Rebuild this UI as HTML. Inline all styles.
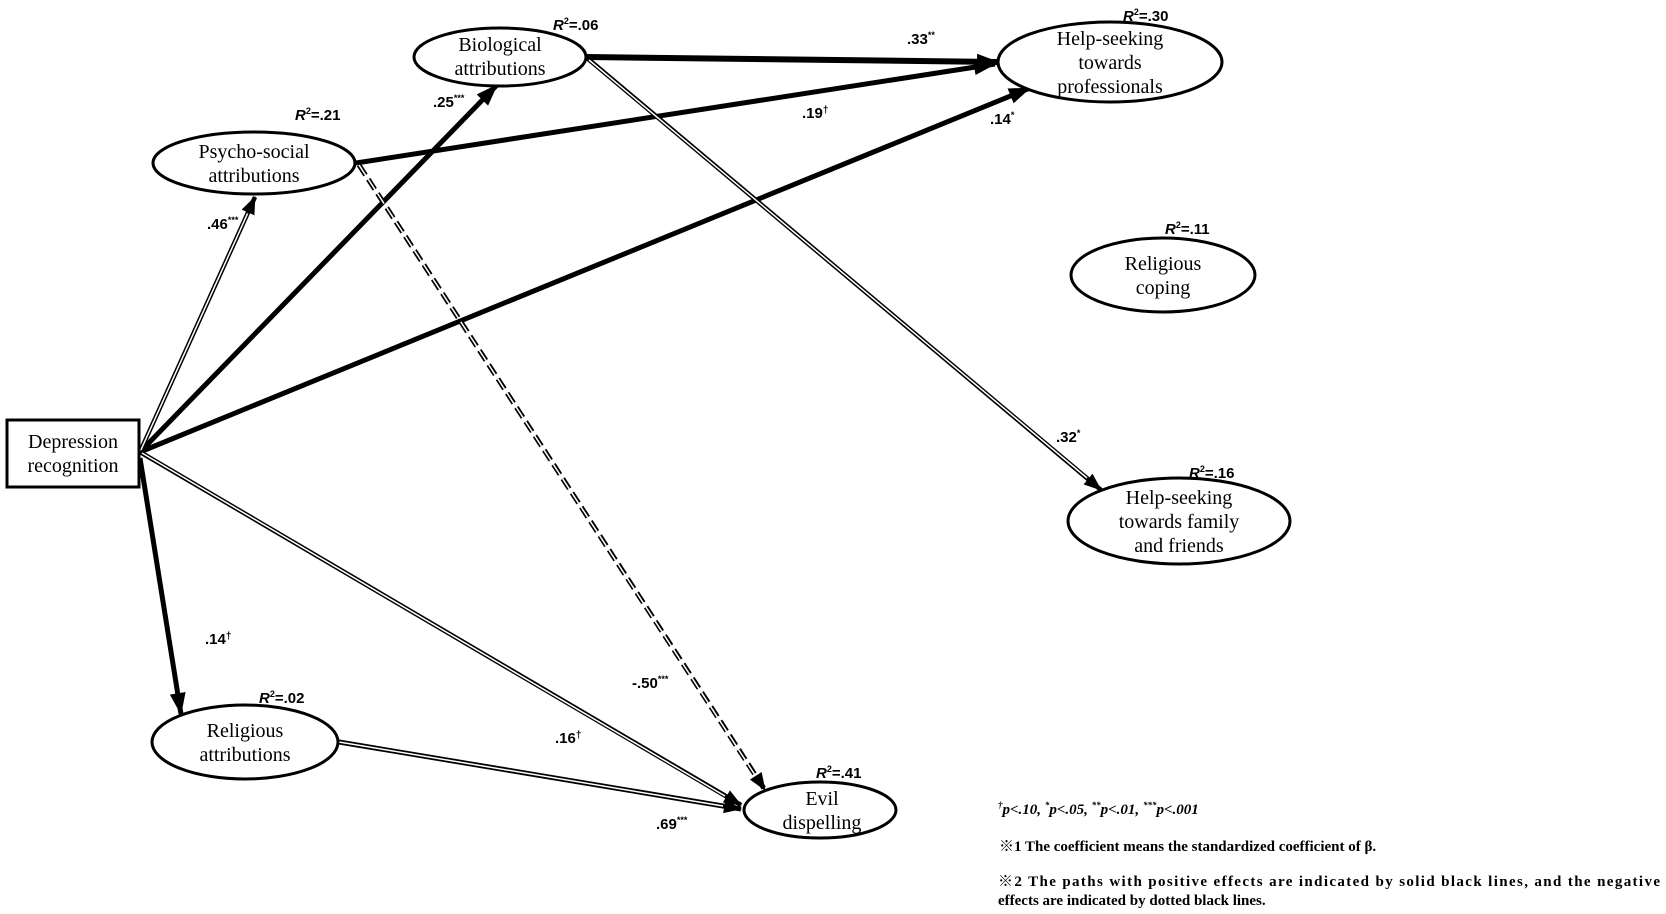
<!DOCTYPE html>
<html><head><meta charset="utf-8"><style>
html,body{margin:0;padding:0;background:#fff}
svg{display:block}
.n{font-family:"Liberation Serif",serif;font-size:20px;fill:#000}
.l{font-family:"Liberation Sans",sans-serif;font-weight:bold;font-size:15px;fill:#000}
.g{font-family:"Liberation Serif",serif;font-weight:bold;font-size:15px;fill:#000}
</style></head><body>
<svg width="1666" height="914" viewBox="0 0 1666 914" xmlns="http://www.w3.org/2000/svg">
<defs>
<marker id="a" markerUnits="userSpaceOnUse" markerWidth="22" markerHeight="16" refX="21" refY="8" orient="auto"><path d="M0,0 L22,8 L0,16 z" fill="#000"/></marker>
<marker id="b" markerUnits="userSpaceOnUse" markerWidth="18" markerHeight="14" refX="17" refY="7" orient="auto"><path d="M0,0 L18,7 L0,14 z" fill="#000"/></marker>
</defs>
<g fill="none" stroke="#000">
<!-- thick paths -->
<line x1="140" y1="452" x2="497" y2="85" stroke-width="5" marker-end="url(#a)"/>
<line x1="140" y1="452" x2="1030" y2="88" stroke-width="5" marker-end="url(#a)"/>
<line x1="587" y1="57" x2="998" y2="62" stroke-width="6" marker-end="url(#a)"/>
<line x1="356" y1="163" x2="995" y2="64" stroke-width="5" marker-end="url(#a)"/>
<line x1="140" y1="458" x2="181" y2="714" stroke-width="5" marker-end="url(#a)"/>
<!-- double paths -->
<line x1="140" y1="452" x2="255" y2="197" stroke-width="4.5" marker-end="url(#b)"/>
<line x1="140" y1="452" x2="247.6" y2="213.4" stroke-width="1.5" stroke="#fff"/>
<line x1="587" y1="58" x2="1101" y2="490" stroke-width="4.5" marker-end="url(#b)"/>
<line x1="589" y1="60" x2="1087" y2="478" stroke-width="1.5" stroke="#fff"/>
<line x1="140" y1="452" x2="741" y2="805" stroke-width="4.5" marker-end="url(#b)"/>
<line x1="142" y1="453" x2="725" y2="796" stroke-width="1.5" stroke="#fff"/>
<line x1="339" y1="742" x2="741" y2="809" stroke-width="5" marker-end="url(#b)"/>
<line x1="339" y1="742" x2="723" y2="806" stroke-width="1.5" stroke="#fff"/>
<line x1="359" y1="165" x2="765" y2="790" stroke-width="5" stroke-dasharray="12,5" marker-end="url(#b)"/>
<line x1="359" y1="165" x2="755" y2="775" stroke-width="1.5" stroke="#fff" stroke-dasharray="12,5"/>
</g>
<g fill="#fff" stroke="#000" stroke-width="3">
<rect x="7" y="420" width="132" height="67"/>
<ellipse cx="500" cy="57" rx="86" ry="29"/>
<ellipse cx="254" cy="163" rx="101" ry="31"/>
<ellipse cx="1110" cy="62" rx="112" ry="40"/>
<ellipse cx="1163" cy="275" rx="92" ry="37"/>
<ellipse cx="1179" cy="521" rx="111" ry="43"/>
<ellipse cx="245" cy="742" rx="93" ry="37"/>
<ellipse cx="820" cy="810" rx="76" ry="28"/>
</g>
<g class="n" text-anchor="middle">
<text x="73" y="448">Depression</text><text x="73" y="472">recognition</text>
<text x="500" y="51">Biological</text><text x="500" y="75">attributions</text>
<text x="254" y="158">Psycho-social</text><text x="254" y="182">attributions</text>
<text x="1110" y="45">Help-seeking</text><text x="1110" y="69">towards</text><text x="1110" y="93">professionals</text>
<text x="1163" y="270">Religious</text><text x="1163" y="294">coping</text>
<text x="1179" y="504">Help-seeking</text><text x="1179" y="528">towards family</text><text x="1179" y="552">and friends</text>
<text x="245" y="737">Religious</text><text x="245" y="761">attributions</text>
<text x="822" y="805">Evil</text><text x="822" y="829">dispelling</text>
</g>
<g class="l">
<text x="553" y="30"><tspan font-style="italic">R</tspan><tspan font-size="9" dy="-6">2</tspan><tspan dy="6">=.06</tspan></text>
<text x="295" y="120"><tspan font-style="italic">R</tspan><tspan font-size="9" dy="-6">2</tspan><tspan dy="6">=.21</tspan></text>
<text x="1123" y="21"><tspan font-style="italic">R</tspan><tspan font-size="9" dy="-6">2</tspan><tspan dy="6">=.30</tspan></text>
<text x="1165" y="234"><tspan font-style="italic">R</tspan><tspan font-size="9" dy="-6">2</tspan><tspan dy="6">=.11</tspan></text>
<text x="1189" y="478"><tspan font-style="italic">R</tspan><tspan font-size="9" dy="-6">2</tspan><tspan dy="6">=.16</tspan></text>
<text x="259" y="703"><tspan font-style="italic">R</tspan><tspan font-size="9" dy="-6">2</tspan><tspan dy="6">=.02</tspan></text>
<text x="816" y="778"><tspan font-style="italic">R</tspan><tspan font-size="9" dy="-6">2</tspan><tspan dy="6">=.41</tspan></text>
<text x="433" y="107">.25<tspan font-size="9" dy="-6">***</tspan></text>
<text x="207" y="229">.46<tspan font-size="9" dy="-6">***</tspan></text>
<text x="907" y="44">.33<tspan font-size="9" dy="-6">**</tspan></text>
<text x="802" y="118">.19<tspan font-size="10" dy="-5">†</tspan></text>
<text x="990" y="124">.14<tspan font-size="9" dy="-6">*</tspan></text>
<text x="1056" y="442">.32<tspan font-size="9" dy="-6">*</tspan></text>
<text x="205" y="644">.14<tspan font-size="10" dy="-5">†</tspan></text>
<text x="632" y="688">-.50<tspan font-size="9" dy="-6">***</tspan></text>
<text x="555" y="743">.16<tspan font-size="10" dy="-5">†</tspan></text>
<text x="656" y="829">.69<tspan font-size="9" dy="-6">***</tspan></text>
</g>
<g class="g">
<text x="998" y="814" font-style="italic"><tspan font-size="9" dy="-6">†</tspan><tspan dy="6">p&lt;.10, </tspan><tspan font-size="9" dy="-6">*</tspan><tspan dy="6">p&lt;.05, </tspan><tspan font-size="9" dy="-6">**</tspan><tspan dy="6">p&lt;.01, </tspan><tspan font-size="9" dy="-6">***</tspan><tspan dy="6">p&lt;.001</tspan></text>
<text x="999" y="851" font-family="'Liberation Serif','Noto Serif CJK SC',serif">※1 The coefficient means the standardized coefficient of β.</text>
<text x="998" y="886" textLength="662" lengthAdjust="spacing" font-family="'Liberation Serif','Noto Serif CJK SC',serif">※2 The paths with positive effects are indicated by solid black lines, and the negative</text>
<text x="998" y="905">effects are indicated by dotted black lines.</text>
</g>
</svg>
</body></html>
